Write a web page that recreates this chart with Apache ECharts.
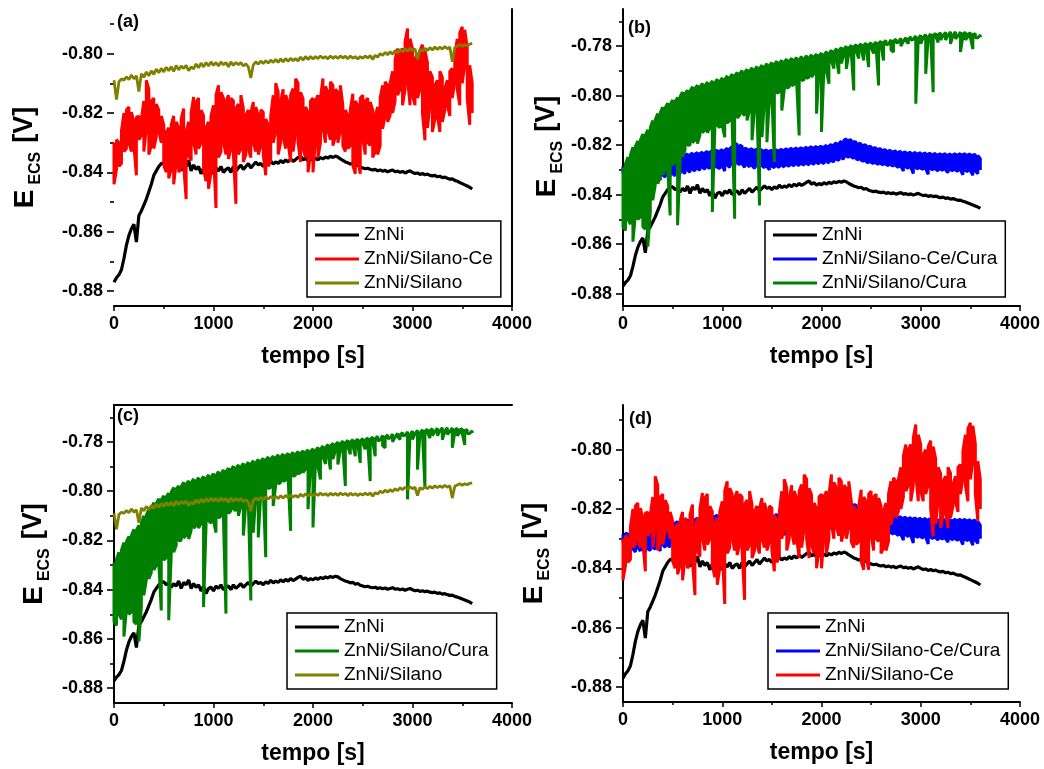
<!DOCTYPE html>
<html><head><meta charset="utf-8">
<script src="https://cdn.jsdelivr.net/npm/echarts@6/dist/echarts.min.js"></script>
<style>html,body{margin:0;padding:0;background:#fff}#c{width:1044px;height:769px}</style>
</head><body><div id="c"></div>
<script>
// ---- data: time (s) and potential E_ECS (V) ----
// Thin curves are one value per 25-s step; noisy curves are given as the
// highest / lowest potential seen inside each 25-s step.
const TIME = [
0,25,50,75,100,125,150,175,200,225,
250,275,300,325,350,375,400,425,450,475,
500,525,550,575,600,625,650,675,700,725,
750,775,800,825,850,875,900,925,950,975,
1000,1025,1050,1075,1100,1125,1150,1175,1200,1225,
1250,1275,1300,1325,1350,1375,1400,1425,1450,1475,
1500,1525,1550,1575,1600,1625,1650,1675,1700,1725,
1750,1775,1800,1825,1850,1875,1900,1925,1950,1975,
2000,2025,2050,2075,2100,2125,2150,2175,2200,2225,
2250,2275,2300,2325,2350,2375,2400,2425,2450,2475,
2500,2525,2550,2575,2600,2625,2650,2675,2700,2725,
2750,2775,2800,2825,2850,2875,2900,2925,2950,2975,
3000,3025,3050,3075,3100,3125,3150,3175,3200,3225,
3250,3275,3300,3325,3350,3375,3400,3425,3450,3475,
3500,3525,3550,3575,3600];

const ZNNI = [
-0.8770,-0.8755,-0.8745,-0.8728,-0.8690,-0.8645,-0.8612,-0.8590,-0.8575,-0.8635,
-0.8545,-0.8530,-0.8510,-0.8490,-0.8465,-0.8440,-0.8410,-0.8395,-0.8380,-0.8370,
-0.8368,-0.8380,-0.8372,-0.8390,-0.8375,-0.8385,-0.8365,-0.8395,-0.8370,-0.8380,
-0.8360,-0.8395,-0.8375,-0.8390,-0.8380,-0.8405,-0.8385,-0.8415,-0.8395,-0.8390,
-0.8405,-0.8385,-0.8395,-0.8380,-0.8400,-0.8390,-0.8385,-0.8400,-0.8380,-0.8395,
-0.8385,-0.8375,-0.8390,-0.8380,-0.8370,-0.8385,-0.8375,-0.8365,-0.8375,-0.8370,
-0.8380,-0.8368,-0.8375,-0.8362,-0.8372,-0.8365,-0.8370,-0.8360,-0.8368,-0.8358,
-0.8365,-0.8355,-0.8363,-0.8357,-0.8350,-0.8345,-0.8358,-0.8352,-0.8362,-0.8355,
-0.8360,-0.8352,-0.8358,-0.8350,-0.8355,-0.8348,-0.8352,-0.8346,-0.8350,-0.8345,
-0.8348,-0.8355,-0.8360,-0.8365,-0.8368,-0.8372,-0.8370,-0.8378,-0.8375,-0.8382,
-0.8385,-0.8388,-0.8386,-0.8390,-0.8392,-0.8390,-0.8395,-0.8392,-0.8396,-0.8393,
-0.8398,-0.8395,-0.8392,-0.8398,-0.8396,-0.8400,-0.8397,-0.8402,-0.8398,-0.8395,
-0.8400,-0.8404,-0.8402,-0.8407,-0.8404,-0.8408,-0.8406,-0.8410,-0.8412,-0.8410,
-0.8415,-0.8413,-0.8418,-0.8416,-0.8420,-0.8423,-0.8422,-0.8427,-0.8430,-0.8434,
-0.8438,-0.8442,-0.8446,-0.8450,-0.8456];

const SILANO = [
-0.8090,-0.8155,-0.8095,-0.8085,-0.8090,-0.8078,-0.8088,-0.8072,-0.8085,-0.8075,
-0.8128,-0.8068,-0.8080,-0.8062,-0.8075,-0.8058,-0.8070,-0.8052,-0.8065,-0.8050,
-0.8062,-0.8046,-0.8058,-0.8044,-0.8060,-0.8040,-0.8055,-0.8042,-0.8050,-0.8040,
-0.8058,-0.8045,-0.8052,-0.8035,-0.8048,-0.8032,-0.8045,-0.8030,-0.8042,-0.8028,
-0.8040,-0.8030,-0.8042,-0.8028,-0.8038,-0.8030,-0.8045,-0.8028,-0.8040,-0.8030,
-0.8038,-0.8030,-0.8042,-0.8035,-0.8045,-0.8082,-0.8038,-0.8028,-0.8036,-0.8025,
-0.8034,-0.8024,-0.8032,-0.8022,-0.8030,-0.8020,-0.8030,-0.8018,-0.8028,-0.8017,
-0.8026,-0.8016,-0.8024,-0.8017,-0.8025,-0.8012,-0.8022,-0.8010,-0.8020,-0.8010,
-0.8018,-0.8010,-0.8017,-0.8008,-0.8016,-0.8010,-0.8018,-0.8008,-0.8016,-0.8009,
-0.8017,-0.8008,-0.8015,-0.8009,-0.8018,-0.8008,-0.8016,-0.8010,-0.8018,-0.8010,
-0.8016,-0.8008,-0.8015,-0.8007,-0.8020,-0.8006,-0.8012,-0.8000,-0.8006,-0.7996,
-0.8004,-0.7994,-0.8002,-0.7990,-0.7998,-0.7986,-0.7994,-0.7984,-0.7992,-0.7982,
-0.7990,-0.7984,-0.8018,-0.7986,-0.7992,-0.7982,-0.7990,-0.7980,-0.7988,-0.7978,
-0.7986,-0.7978,-0.7985,-0.7976,-0.7984,-0.7978,-0.8028,-0.7980,-0.7975,-0.7970,
-0.7976,-0.7970,-0.7974,-0.7968,-0.7966];

const SILANO_CE_HI = [
-0.8300,-0.8290,-0.8300,-0.8260,-0.8200,-0.8190,-0.8180,-0.8197,-0.8230,-0.8215,
-0.8210,-0.8220,-0.8160,-0.8090,-0.8120,-0.8160,-0.8150,-0.8170,-0.8190,-0.8210,
-0.8240,-0.8265,-0.8250,-0.8240,-0.8210,-0.8230,-0.8250,-0.8220,-0.8185,-0.8265,
-0.8230,-0.8200,-0.8146,-0.8163,-0.8150,-0.8190,-0.8210,-0.8250,-0.8230,-0.8210,
-0.8174,-0.8140,-0.8107,-0.8130,-0.8150,-0.8163,-0.8140,-0.8150,-0.8160,-0.8185,
-0.8170,-0.8140,-0.8185,-0.8208,-0.8190,-0.8200,-0.8163,-0.8180,-0.8208,-0.8190,
-0.8197,-0.8220,-0.8240,-0.8210,-0.8140,-0.8100,-0.8130,-0.8163,-0.8120,-0.8140,
-0.8163,-0.8140,-0.8118,-0.8085,-0.8100,-0.8130,-0.8152,-0.8180,-0.8197,-0.8160,
-0.8150,-0.8160,-0.8140,-0.8150,-0.8084,-0.8110,-0.8130,-0.8095,-0.8107,-0.8120,
-0.8130,-0.8107,-0.8174,-0.8190,-0.8208,-0.8190,-0.8135,-0.8160,-0.8174,-0.8150,
-0.8140,-0.8160,-0.8150,-0.8163,-0.8190,-0.8208,-0.8180,-0.8150,-0.8107,-0.8095,
-0.8107,-0.8100,-0.8060,-0.8020,-0.7983,-0.8000,-0.7983,-0.7960,-0.7916,-0.7950,
-0.7983,-0.8017,-0.8000,-0.7990,-0.7970,-0.7990,-0.8030,-0.8060,-0.8080,-0.8107,
-0.8090,-0.8060,-0.8080,-0.8118,-0.8090,-0.8060,-0.8050,-0.8005,-0.7950,-0.7930,
-0.7910,-0.7920,-0.7980,-0.8039,-0.8100];

const SILANO_CE_LO = [
-0.8440,-0.8390,-0.8380,-0.8370,-0.8330,-0.8320,-0.8300,-0.8330,-0.8310,-0.8410,
-0.8290,-0.8275,-0.8330,-0.8250,-0.8340,-0.8310,-0.8320,-0.8280,-0.8260,-0.8300,
-0.8376,-0.8400,-0.8420,-0.8390,-0.8440,-0.8365,-0.8400,-0.8380,-0.8376,-0.8490,
-0.8343,-0.8360,-0.8298,-0.8340,-0.8320,-0.8300,-0.8390,-0.8430,-0.8455,-0.8400,
-0.8340,-0.8520,-0.8350,-0.8330,-0.8298,-0.8340,-0.8355,-0.8320,-0.8340,-0.8506,
-0.8340,-0.8320,-0.8365,-0.8340,-0.8320,-0.8350,-0.8300,-0.8330,-0.8340,-0.8310,
-0.8340,-0.8410,-0.8380,-0.8360,-0.8300,-0.8264,-0.8340,-0.8300,-0.8280,-0.8320,
-0.8300,-0.8365,-0.8330,-0.8264,-0.8300,-0.8365,-0.8320,-0.8350,-0.8400,-0.8340,
-0.8400,-0.8290,-0.8350,-0.8300,-0.8250,-0.8300,-0.8260,-0.8290,-0.8310,-0.8280,
-0.8300,-0.8260,-0.8310,-0.8330,-0.8320,-0.8310,-0.8376,-0.8405,-0.8360,-0.8405,
-0.8287,-0.8340,-0.8300,-0.8310,-0.8350,-0.8330,-0.8340,-0.8310,-0.8253,-0.8208,
-0.8230,-0.8208,-0.8200,-0.8160,-0.8140,-0.8120,-0.8174,-0.8120,-0.8084,-0.8174,
-0.8140,-0.8174,-0.8150,-0.8120,-0.8200,-0.8292,-0.8250,-0.8174,-0.8264,-0.8220,
-0.8208,-0.8264,-0.8230,-0.8190,-0.8174,-0.8210,-0.8150,-0.8095,-0.8120,-0.8174,
-0.8100,-0.8039,-0.8150,-0.8240,-0.8200];

const SILANO_CE_CURA_HI = [
-0.8285,-0.8282,-0.8284,-0.8280,-0.8283,-0.8278,-0.8281,-0.8276,-0.8278,-0.8270,
-0.8265,-0.8262,-0.8258,-0.8255,-0.8250,-0.8253,-0.8248,-0.8250,-0.8246,-0.8248,
-0.8244,-0.8248,-0.8242,-0.8246,-0.8238,-0.8242,-0.8235,-0.8240,-0.8232,-0.8236,
-0.8230,-0.8234,-0.8228,-0.8232,-0.8225,-0.8229,-0.8222,-0.8226,-0.8220,-0.8224,
-0.8218,-0.8222,-0.8212,-0.8216,-0.8205,-0.8200,-0.8194,-0.8200,-0.8205,-0.8212,
-0.8215,-0.8218,-0.8214,-0.8220,-0.8216,-0.8221,-0.8218,-0.8222,-0.8219,-0.8224,
-0.8220,-0.8223,-0.8218,-0.8222,-0.8216,-0.8220,-0.8214,-0.8218,-0.8212,-0.8216,
-0.8211,-0.8215,-0.8210,-0.8214,-0.8208,-0.8212,-0.8206,-0.8210,-0.8205,-0.8208,
-0.8204,-0.8207,-0.8200,-0.8204,-0.8196,-0.8199,-0.8190,-0.8194,-0.8184,-0.8180,
-0.8174,-0.8180,-0.8178,-0.8185,-0.8188,-0.8192,-0.8195,-0.8198,-0.8200,-0.8204,
-0.8206,-0.8210,-0.8212,-0.8215,-0.8216,-0.8219,-0.8220,-0.8223,-0.8222,-0.8226,
-0.8224,-0.8228,-0.8226,-0.8230,-0.8228,-0.8232,-0.8229,-0.8233,-0.8230,-0.8234,
-0.8231,-0.8235,-0.8232,-0.8236,-0.8233,-0.8237,-0.8234,-0.8238,-0.8234,-0.8238,
-0.8235,-0.8239,-0.8235,-0.8239,-0.8234,-0.8238,-0.8234,-0.8238,-0.8235,-0.8239,
-0.8236,-0.8240,-0.8238,-0.8242,-0.8255];

const SILANO_CE_CURA_LO = [
-0.8310,-0.8340,-0.8330,-0.8349,-0.8335,-0.8345,-0.8330,-0.8342,-0.8338,-0.8345,
-0.8335,-0.8340,-0.8330,-0.8336,-0.8325,-0.8342,-0.8320,-0.8330,-0.8322,-0.8328,
-0.8315,-0.8325,-0.8310,-0.8318,-0.8305,-0.8315,-0.8300,-0.8310,-0.8298,-0.8305,
-0.8295,-0.8302,-0.8290,-0.8298,-0.8288,-0.8295,-0.8285,-0.8292,-0.8289,-0.8295,
-0.8285,-0.8305,-0.8282,-0.8290,-0.8278,-0.8285,-0.8272,-0.8280,-0.8275,-0.8290,
-0.8280,-0.8288,-0.8282,-0.8295,-0.8285,-0.8290,-0.8283,-0.8292,-0.8286,-0.8300,
-0.8285,-0.8292,-0.8284,-0.8290,-0.8282,-0.8288,-0.8280,-0.8286,-0.8278,-0.8284,
-0.8276,-0.8283,-0.8275,-0.8281,-0.8274,-0.8280,-0.8272,-0.8278,-0.8270,-0.8276,
-0.8268,-0.8275,-0.8266,-0.8272,-0.8263,-0.8268,-0.8258,-0.8262,-0.8252,-0.8256,
-0.8245,-0.8250,-0.8248,-0.8254,-0.8256,-0.8260,-0.8262,-0.8266,-0.8268,-0.8272,
-0.8270,-0.8275,-0.8274,-0.8278,-0.8276,-0.8280,-0.8279,-0.8283,-0.8281,-0.8285,
-0.8283,-0.8290,-0.8286,-0.8305,-0.8288,-0.8294,-0.8290,-0.8315,-0.8292,-0.8296,
-0.8294,-0.8298,-0.8295,-0.8318,-0.8296,-0.8300,-0.8297,-0.8305,-0.8298,-0.8302,
-0.8300,-0.8312,-0.8300,-0.8304,-0.8301,-0.8306,-0.8302,-0.8320,-0.8303,-0.8307,
-0.8304,-0.8322,-0.8305,-0.8316,-0.8300];

const SILANO_CURA_HI = [
-0.8290,-0.8275,-0.8248,-0.8240,-0.8208,-0.8205,-0.8183,-0.8180,-0.8155,-0.8160,
-0.8138,-0.8130,-0.8100,-0.8098,-0.8072,-0.8070,-0.8046,-0.8050,-0.8030,-0.8036,
-0.8018,-0.8024,-0.8008,-0.8004,-0.7985,-0.7992,-0.7978,-0.7982,-0.7964,-0.7972,
-0.7958,-0.7966,-0.7950,-0.7960,-0.7945,-0.7955,-0.7940,-0.7950,-0.7933,-0.7944,
-0.7928,-0.7937,-0.7920,-0.7930,-0.7913,-0.7922,-0.7906,-0.7914,-0.7898,-0.7908,
-0.7893,-0.7902,-0.7887,-0.7897,-0.7882,-0.7892,-0.7876,-0.7886,-0.7870,-0.7880,
-0.7866,-0.7875,-0.7860,-0.7870,-0.7857,-0.7866,-0.7852,-0.7862,-0.7848,-0.7858,
-0.7846,-0.7855,-0.7842,-0.7852,-0.7838,-0.7848,-0.7835,-0.7844,-0.7832,-0.7840,
-0.7828,-0.7836,-0.7822,-0.7830,-0.7816,-0.7825,-0.7810,-0.7818,-0.7805,-0.7812,
-0.7800,-0.7808,-0.7796,-0.7804,-0.7793,-0.7801,-0.7790,-0.7798,-0.7788,-0.7796,
-0.7786,-0.7794,-0.7783,-0.7790,-0.7780,-0.7787,-0.7777,-0.7784,-0.7774,-0.7781,
-0.7771,-0.7778,-0.7768,-0.7775,-0.7765,-0.7772,-0.7762,-0.7769,-0.7759,-0.7766,
-0.7756,-0.7763,-0.7753,-0.7760,-0.7750,-0.7757,-0.7748,-0.7755,-0.7746,-0.7753,
-0.7744,-0.7751,-0.7742,-0.7750,-0.7742,-0.7750,-0.7743,-0.7751,-0.7744,-0.7752,
-0.7746,-0.7754,-0.7750,-0.7758,-0.7755];

const SILANO_CURA_LO = [
-0.8530,-0.8545,-0.8500,-0.8520,-0.8590,-0.8480,-0.8500,-0.8490,-0.8530,-0.8540,
-0.8610,-0.8470,-0.8423,-0.8360,-0.8356,-0.8330,-0.8320,-0.8300,-0.8290,-0.8484,
-0.8280,-0.8270,-0.8524,-0.8260,-0.8248,-0.8220,-0.8201,-0.8200,-0.8190,-0.8180,
-0.8194,-0.8160,-0.8150,-0.8140,-0.8150,-0.8130,-0.8470,-0.8140,-0.8120,-0.8130,
-0.8120,-0.8168,-0.8110,-0.8100,-0.8110,-0.8497,-0.8090,-0.8080,-0.8070,-0.8080,
-0.8100,-0.8060,-0.8180,-0.8050,-0.8040,-0.8444,-0.8168,-0.8020,-0.8188,-0.8010,
-0.8000,-0.8268,-0.7990,-0.7985,-0.8060,-0.7975,-0.7970,-0.7965,-0.7960,-0.7955,
-0.7950,-0.8161,-0.7940,-0.7935,-0.7930,-0.7925,-0.7925,-0.7910,-0.8073,-0.7900,
-0.8147,-0.7880,-0.7900,-0.7952,-0.7860,-0.7890,-0.7850,-0.7912,-0.7870,-0.7835,
-0.7892,-0.7830,-0.7825,-0.7979,-0.7820,-0.7850,-0.7812,-0.7858,-0.7808,-0.7885,
-0.7805,-0.7830,-0.7800,-0.7959,-0.7798,-0.7858,-0.7795,-0.7792,-0.7815,-0.7824,
-0.7786,-0.7784,-0.7800,-0.7780,-0.7778,-0.7790,-0.7775,-0.7773,-0.8033,-0.7770,
-0.7790,-0.7766,-0.7912,-0.7764,-0.7762,-0.7986,-0.7760,-0.7785,-0.7775,-0.7758,
-0.7775,-0.7756,-0.7791,-0.7756,-0.7770,-0.7758,-0.7824,-0.7760,-0.7775,-0.7762,
-0.7764,-0.7812,-0.7766,-0.7766,-0.7764];

const Y_MAJOR_SHORT = [-0.88,-0.86,-0.84,-0.82,-0.80];
const Y_MINOR_SHORT = [-0.87,-0.85,-0.83,-0.81,-0.79];
const Y_MAJOR_TALL = [-0.88,-0.86,-0.84,-0.82,-0.80,-0.78];
const Y_MINOR_TALL = [-0.87,-0.85,-0.83,-0.81,-0.79,-0.77];
const PANEL_LABELS = ['(a)','(b)','(c)','(d)'];
const NAMES = {zn:'ZnNi', ce:'ZnNi/Silano-Ce', si:'ZnNi/Silano', cec:'ZnNi/Silano-Ce/Cura', sic:'ZnNi/Silano/Cura'};

// ---- build point lists ----
function single(vals) { return TIME.map((t, j) => [t, vals[j]]); }
function envelope(hi, lo) {           // vertical stroke per 25-s step: max -> min
  const d = [];
  TIME.forEach((t, j) => {
    if (j % 2 === 0) { d.push([t, hi[j]], [t, lo[j]]); }
    else { d.push([t, lo[j]], [t, hi[j]]); }
  });
  return d;
}
const POINTS = {
  zn: single(ZNNI),
  si: single(SILANO),
  ce: envelope(SILANO_CE_HI, SILANO_CE_LO),
  cec: envelope(SILANO_CE_CURA_HI, SILANO_CE_CURA_LO),
  sic: envelope(SILANO_CURA_HI, SILANO_CURA_LO)
};

// ---- styling / layout ----
const FONT = 'Liberation Sans, Arial, Helvetica, sans-serif';
const COLORS = {zn:'#000000', ce:'#ff0000', si:'#808000', cec:'#0000ff', sic:'#008000'};
const WIDTHS = {zn:3.2, ce:3, si:2.8, cec:3, sic:3};

const PANELS = [
  {grid:{left:114, top:9, width:398, height:297}, min:-0.885, max:-0.785, major:Y_MAJOR_SHORT, minor:Y_MINOR_SHORT,
   leftLine:false, rightLine:true, topLine:false, nameGap:70, namePad:0, legend:[307,221], keys:['zn','ce','si'], lab:[117,13]},
  {grid:{left:623, top:9, width:397, height:297}, min:-0.885, max:-0.765, major:Y_MAJOR_TALL, minor:Y_MINOR_TALL,
   leftLine:true, rightLine:false, topLine:false, nameGap:57, namePad:22, legend:[765,221], keys:['zn','cec','sic'], lab:[628,19]},
  {grid:{left:114, top:405, width:398, height:298}, min:-0.886, max:-0.765, major:Y_MAJOR_TALL, minor:Y_MINOR_TALL,
   leftLine:false, rightLine:true, topLine:true, nameGap:61, namePad:0, legend:[287,613], keys:['zn','sic','si'], lab:[117,407]},
  {grid:{left:623, top:405, width:397, height:297}, min:-0.885, max:-0.785, major:Y_MAJOR_SHORT, minor:Y_MINOR_SHORT,
   leftLine:true, rightLine:false, topLine:false, nameGap:70, namePad:0, legend:[768,613], keys:['zn','cec','ce'], lab:[629,410]}
];

const grids = [], xAxes = [], yAxes = [], series = [], legends = [], graphics = [];
const BLACK = '#000';

PANELS.forEach((p, i) => {
  grids.push(Object.assign({containLabel:false}, p.grid));
  xAxes.push({
    type:'value', gridIndex:i, min:0, max:4000, interval:1000, position:'bottom',
    axisLine:{show:true, onZero:false, lineStyle:{color:BLACK, width:2}},
    axisTick:{show:true, length:5, lineStyle:{color:BLACK, width:1.5}},
    minorTick:{show:true, splitNumber:2, length:3, lineStyle:{color:BLACK, width:1.5}},
    splitLine:{show:false}, minorSplitLine:{show:false},
    axisLabel:{formatter:v => String(v), fontFamily:FONT, fontSize:18, fontWeight:'bold', color:BLACK, margin:9},
    name:'tempo [s]', nameLocation:'middle', nameGap:39,
    nameTextStyle:{fontFamily:FONT, fontSize:23, fontWeight:'bold', color:BLACK}
  });
  yAxes.push({
    type:'value', gridIndex:i, min:p.min, max:p.max, position:'left',
    axisLine:{show:p.leftLine, onZero:false, lineStyle:{color:BLACK, width:2}},
    axisTick:{show:true, length:7, customValues:p.major, lineStyle:{color:BLACK, width:1.6}},
    axisLabel:{customValues:p.major, formatter:v => v.toFixed(2), fontFamily:FONT, fontSize:18, fontWeight:'bold', color:BLACK, margin:11},
    splitLine:{show:false},
    name:'{e|E}{s|ECS}{v|[V]}', nameLocation:'middle', nameRotate:90, nameGap:p.nameGap,
    nameTextStyle:{padding:[0,0,0,p.namePad], rich:{
      e:{fontFamily:FONT, fontSize:28, fontWeight:'bold', color:BLACK, lineHeight:38, verticalAlign:'middle'},
      s:{fontFamily:FONT, fontSize:16, fontWeight:'bold', color:BLACK, lineHeight:16, verticalAlign:'bottom', padding:[0,9,0,5]},
      v:{fontFamily:FONT, fontSize:27, fontWeight:'bold', color:BLACK, lineHeight:38, verticalAlign:'middle'}
    }}
  });
  p.keys.forEach(k => {
    series.push({
      type:'line', name:NAMES[k], xAxisIndex:i, yAxisIndex:i,
      data: POINTS[k],
      symbol:'none', showSymbol:false, animation:false, silent:true,
      lineStyle:{color:COLORS[k], width:WIDTHS[k]}, itemStyle:{color:COLORS[k]}
    });
  });
  legends.push({
    orient:'vertical', left:p.legend[0], top:p.legend[1], selectedMode:false,
    icon:'rect', itemWidth:44, itemHeight:3, itemGap:4, padding:[4,8,4,8],
    borderColor:BLACK, borderWidth:1.5, backgroundColor:'#fff',
    textStyle:{fontFamily:FONT, fontSize:19, color:BLACK, lineHeight:20},
    data:p.keys.map(k => NAMES[k])
  });
  graphics.push({type:'text', left:p.lab[0], top:p.lab[1], z:100,
    style:{text:PANEL_LABELS[i], font:'bold 18px ' + FONT, fill:BLACK}});
});
// minor y ticks
PANELS.forEach((p, i) => {
  yAxes.push({
    type:'value', gridIndex:i, min:p.min, max:p.max, position:'left',
    axisLine:{show:false}, splitLine:{show:false}, axisLabel:{show:false},
    axisTick:{show:true, length:4, customValues:p.minor, lineStyle:{color:BLACK, width:1.6}}
  });
});
// frame lines (right / top) where the figure shows them
PANELS.forEach((p, i) => {
  if (p.rightLine) yAxes.push({
    type:'value', gridIndex:i, min:p.min, max:p.max, position:'right',
    axisLine:{show:true, lineStyle:{color:BLACK, width:2}}, axisTick:{show:false}, axisLabel:{show:false}, splitLine:{show:false}
  });
  if (p.topLine) xAxes.push({
    type:'value', gridIndex:i, min:0, max:4000, position:'top',
    axisLine:{show:true, onZero:false, lineStyle:{color:BLACK, width:2}}, axisTick:{show:false}, axisLabel:{show:false}, splitLine:{show:false}
  });
});

const chart = echarts.init(document.getElementById('c'), null, {renderer:'canvas'});
chart.setOption({
  animation:false, backgroundColor:'#fff',
  grid:grids, xAxis:xAxes, yAxis:yAxes, series:series, legend:legends, graphic:graphics
});
</script>
</body></html>
